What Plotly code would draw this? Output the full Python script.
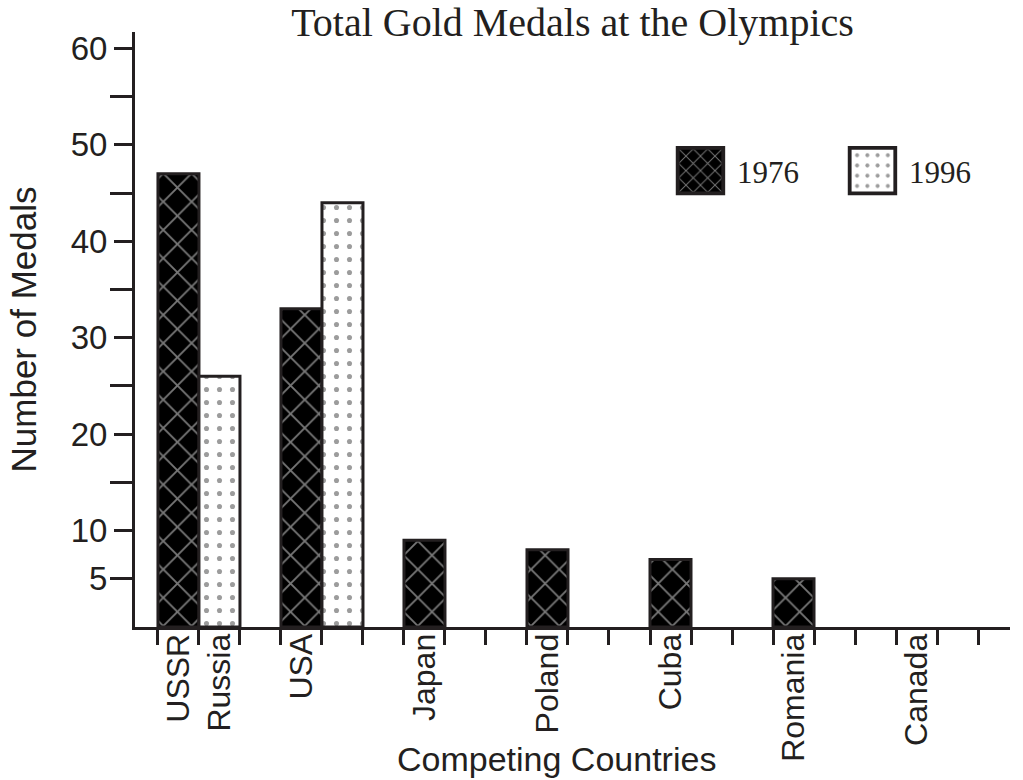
import plotly.graph_objects as go

# ---- data ----
countries = ["USSR", "USA", "Japan", "Poland", "Cuba", "Romania", "Canada"]
labels_1996 = ["Russia", "", "", "", "", "", ""]
medals_1976 = [47, 33, 9, 8, 7, 5, 0]
medals_1996 = [26, 44, None, None, None, None, None]
y_tick_vals = [5, 10, 20, 30, 40, 50, 60]
y_tick_text = ["5", "10", "20", "30", "40", "50", "60"]

# slot layout: each country uses 3 slots (1976, 1996, gap)
pos_1976 = [3 * i for i in range(len(countries))]
pos_1996 = [3 * i + 1 for i in range(len(countries))]

tick_pos, tick_txt = [], []
for i, c in enumerate(countries):
    tick_pos.append(pos_1976[i]); tick_txt.append(c)
    if labels_1996[i]:
        tick_pos.append(pos_1996[i]); tick_txt.append(labels_1996[i])

INK = "#231f20"
SANS = "Liberation Sans, Arial, sans-serif"
SERIF = "Liberation Serif, Times New Roman, serif"

line_w_1976 = [3 if v else 0 for v in medals_1976]

fig = go.Figure()
fig.add_trace(go.Bar(
    x=pos_1976, y=medals_1976, name="1976", width=1,
    marker=dict(color="black",
                line=dict(color=INK, width=line_w_1976),
                pattern=dict(shape="x", fgcolor="#ececec", bgcolor="black",
                             size=20, solidity=0.18)),
))
fig.add_trace(go.Bar(
    x=pos_1996, y=medals_1996, name="1996", width=1,
    marker=dict(color="white",
                line=dict(color=INK, width=3),
                pattern=dict(shape=".", fgcolor="#3a3a3a", bgcolor="white",
                             size=13, solidity=0.12)),
))

fig.update_layout(
    width=1023, height=780,
    margin=dict(l=135, r=13, t=32, b=153, autoexpand=False),
    paper_bgcolor="white", plot_bgcolor="white",
    barmode="overlay",
    title=dict(text="Total Gold Medals at the Olympics",
               font=dict(family=SERIF, size=40, color=INK),
               x=0.5, xref="paper", xanchor="center",
               y=0.99, yref="container", yanchor="top"),
    legend=dict(orientation="h", x=0.6194, y=0.8118, xanchor="left", yanchor="top",
                font=dict(family=SERIF, size=31, color=INK),
                bgcolor="rgba(0,0,0,0)", itemwidth=50,
                entrywidth=107, entrywidthmode="pixels"),
    showlegend=True,
    annotations=[dict(text="Competing Countries", xref="paper", yref="paper",
                      x=(556 - 135) / 875, y=-(759 - 627) / 595,
                      xanchor="center", yanchor="middle", showarrow=False,
                      font=dict(family=SANS, size=34, color=INK))],
)

fig.update_xaxes(
    range=[-1.06, 20.28], automargin=False,
    tickmode="array", tickvals=tick_pos, ticktext=tick_txt,
    tickangle=-90, ticks="", ticklabelstandoff=-9,
    tickfont=dict(family=SANS, size=32, color=INK),
    showline=True, linecolor=INK, linewidth=3,
    showgrid=False, zeroline=False,
    minor=dict(ticks="outside", tick0=-0.5, dtick=1, ticklen=15,
               tickwidth=3, tickcolor=INK, showgrid=False),
)
fig.update_yaxes(
    range=[0, 61.7], automargin=False,
    tickmode="array", tickvals=y_tick_vals, ticktext=y_tick_text,
    ticks="outside", ticklen=18, tickwidth=3, tickcolor=INK,
    tickfont=dict(family=SANS, size=33, color=INK),
    showline=True, linecolor=INK, linewidth=3,
    showgrid=False, zeroline=False,
    minor=dict(ticks="outside", tick0=15, dtick=10, ticklen=22,
               tickwidth=3, tickcolor=INK, showgrid=False),
    title=dict(text="Number of Medals",
               font=dict(family=SANS, size=35, color=INK), standoff=24),
)

post = r"""
var gd = document.getElementById('{plot_id}');
document.body.style.margin = '0';
function fixLegend(){
  var sb = gd.querySelector('.legend .scrollbox');
  if (sb) sb.removeAttribute('clip-path');
  var traces = gd.querySelectorAll('.legend .traces');
  traces.forEach(function(tr){
    var txt = tr.querySelector('.legendtext');
    var path = tr.querySelector('.legendpoints path');
    if (!txt || !path) return;
    var tx = parseFloat(txt.getAttribute('x')) || 0;
    var par = path.parentNode;
    var m = tr.getCTM().inverse().multiply(par.getCTM());
    var cx = tx - 13 - 23.5;
    path.setAttribute('transform', 'translate(' + (cx - m.e) + ',0) scale(3.8)');
    path.style.strokeWidth = '1px';
    path.style.stroke = '#231f20';
    var f = path.style.fill || path.getAttribute('fill') || '';
    var mm = /url\(["']?#([^"')]+)/.exec(f);
    if (mm) {
      var pat = document.getElementById(mm[1]);
      if (pat) pat.setAttribute('patternTransform', 'scale(0.27)');
    }
  });
}
fixLegend();
gd.on('plotly_afterplot', fixLegend);
setTimeout(fixLegend, 300);
"""

fig.write_html("out.html", post_script=post, config={"displayModeBar": False})
